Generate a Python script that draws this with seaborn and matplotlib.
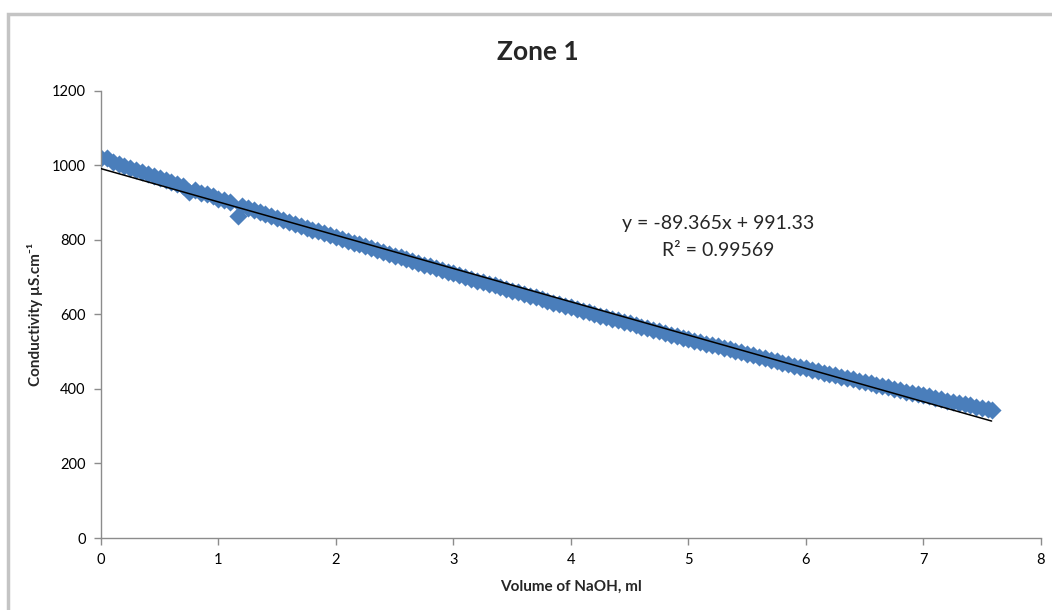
import matplotlib
matplotlib.use("Agg")
import matplotlib.pyplot as plt
import matplotlib.patches as patches
import numpy as np
import pandas as pd
import seaborn as sns

# === data ===
volume_ml = [
    0.00, 0.05, 0.10, 0.15, 0.20, 0.25, 0.30, 0.35, 0.40, 0.45,
    0.50, 0.55, 0.60, 0.65, 0.70, 0.75, 0.80, 0.85, 0.90, 0.95,
    1.00, 1.05, 1.10, 1.17, 1.20, 1.25, 1.30, 1.35, 1.40, 1.45,
    1.50, 1.55, 1.60, 1.65, 1.70, 1.75, 1.80, 1.85, 1.90, 1.95,
    2.00, 2.05, 2.10, 2.15, 2.20, 2.25, 2.30, 2.35, 2.40, 2.45,
    2.50, 2.55, 2.60, 2.65, 2.70, 2.75, 2.80, 2.85, 2.90, 2.95,
    3.00, 3.05, 3.10, 3.15, 3.20, 3.25, 3.30, 3.35, 3.40, 3.45,
    3.50, 3.55, 3.60, 3.65, 3.70, 3.75, 3.80, 3.85, 3.90, 3.95,
    4.00, 4.05, 4.10, 4.15, 4.20, 4.25, 4.30, 4.35, 4.40, 4.45,
    4.50, 4.55, 4.60, 4.65, 4.70, 4.75, 4.80, 4.85, 4.90, 4.95,
    5.00, 5.05, 5.10, 5.15, 5.20, 5.25, 5.30, 5.35, 5.40, 5.45,
    5.50, 5.55, 5.60, 5.65, 5.70, 5.75, 5.80, 5.85, 5.90, 5.95,
    6.00, 6.05, 6.10, 6.15, 6.20, 6.25, 6.30, 6.35, 6.40, 6.45,
    6.50, 6.55, 6.60, 6.65, 6.70, 6.75, 6.80, 6.85, 6.90, 6.95,
    7.00, 7.05, 7.10, 7.15, 7.20, 7.25, 7.30, 7.35, 7.40, 7.45,
    7.50, 7.55, 7.58,
]
conductivity = [
    1021, 1019, 1010, 1005, 999, 993, 988, 982, 977, 971,
    966, 960, 955, 949, 944, 929, 933, 927, 922, 917,
    911, 906, 901, 864, 890, 885, 880, 874, 869, 864,
    859, 853, 848, 843, 838, 833, 828, 823, 818, 813,
    808, 803, 798, 793, 788, 783, 778, 773, 768, 763,
    758, 753, 748, 744, 739, 734, 729, 724, 720, 715,
    710, 705, 701, 696, 691, 687, 682, 678, 673, 668,
    664, 659, 655, 650, 646, 641, 637, 632, 628, 623,
    619, 615, 610, 606, 601, 597, 593, 589, 584, 580,
    576, 572, 567, 563, 559, 555, 551, 546, 542, 538,
    534, 530, 526, 522, 518, 514, 510, 506, 502, 498,
    494, 490, 486, 482, 478, 474, 471, 467, 463, 459,
    455, 452, 448, 444, 440, 437, 433, 429, 426, 422,
    418, 415, 411, 408, 404, 401, 397, 393, 390, 386,
    383, 380, 376, 373, 369, 366, 363, 359, 356, 352,
    349, 346, 344,
]

# trendline as printed on the chart
slope = -89.365
intercept = 991.33
eq_text = "y = -89.365x + 991.33"
r2_text = "R² = 0.99569"

df = pd.DataFrame({"volume": volume_ml, "conductivity": conductivity})

sns.set_style("white")
plt.rcParams["font.family"] = ["Lato", "DejaVu Sans"]

fig = plt.figure(figsize=(10.52, 6.10), dpi=100)
ax = fig.add_axes([0.096, 0.118, 0.8935, 0.733])

sns.scatterplot(data=df, x="volume", y="conductivity", marker="D",
                color="#4A7EBB", s=85, linewidth=0, ax=ax, zorder=2)

x_fit = np.array([df["volume"].min(), df["volume"].max()])
ax.plot(x_fit, slope * x_fit + intercept, color="black", lw=1.1, zorder=3)

ax.set_xlim(0, 8)
ax.set_ylim(0, 1200)
ax.set_xticks(range(0, 9))
ax.set_yticks(range(0, 1201, 200))

for side in ["top", "right"]:
    ax.spines[side].set_visible(False)
for side in ["left", "bottom"]:
    ax.spines[side].set_color("#8c8c8c")
    ax.spines[side].set_linewidth(1.0)
ax.tick_params(axis="both", direction="out", length=5, width=1.0,
               color="#8c8c8c", labelsize=10.5, pad=6, labelcolor="black",
               left=True, bottom=True)

ax.set_xlabel("Volume of NaOH, ml", fontsize=11, fontweight="bold", labelpad=9)
ax.set_ylabel("Conductivity µS.cm⁻¹", fontsize=11, fontweight="bold", labelpad=6)

fig.text(0.511, 0.915, "Zone 1", ha="center", va="center",
         fontsize=19, fontweight="bold")

ax.text(5.25, 845, eq_text, ha="center", va="center", fontsize=14)
ax.text(5.25, 772, r2_text, ha="center", va="center", fontsize=14)

# chart area border (extends past the right/bottom edges)
fig.patches.append(patches.Rectangle((8 / 1052, -0.05), 1.1, 1 - 14 / 610 + 0.05,
                                     transform=fig.transFigure, fill=False,
                                     edgecolor="#c4c4c4", linewidth=2.5))

fig.savefig("out.png", dpi=100)
